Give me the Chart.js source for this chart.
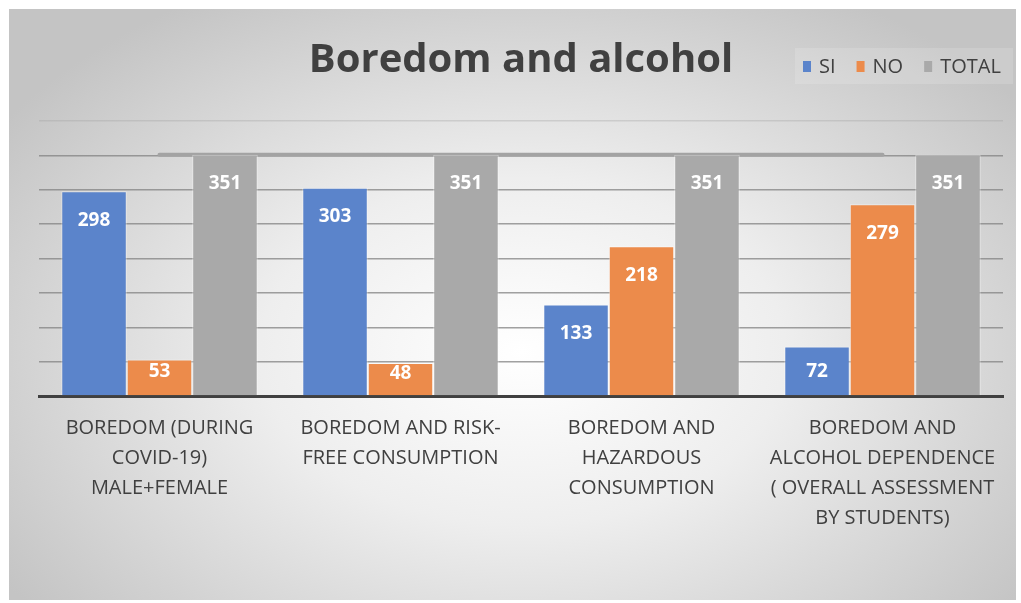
<!DOCTYPE html>
<html>
<head>
<meta charset="utf-8">
<script src="https://cdn.jsdelivr.net/npm/chart.js@4/dist/chart.umd.min.js"></script>
<style>
  body { margin: 0; background: #fff; }
  #box {
    position: absolute; left: 9px; top: 9px; width: 1007px; height: 591px;
    background: radial-gradient(62% 70% at 51% 58%, #ffffff 0%, #eeeeee 42%, #c4c4c4 100%);
  }
  canvas { display: block; }
</style>
</head>
<body>
<div id="box"><canvas id="chart" width="1007" height="591"></canvas></div>
<script>
// Boredom and alcohol - SI / NO / TOTAL per category

const categories = [
    ['BOREDOM (DURING', 'COVID-19)', 'MALE+FEMALE'],
    ['BOREDOM AND RISK-', 'FREE CONSUMPTION'],
    ['BOREDOM AND', 'HAZARDOUS', 'CONSUMPTION'],
    ['BOREDOM AND', 'ALCOHOL DEPENDENCE', '( OVERALL ASSESSMENT', 'BY STUDENTS)']
];
const siValues = [298, 303, 133, 72];
const noValues = [53, 48, 218, 279];
const totalValues = [351, 351, 351, 351];

const seriesNames = ['SI', 'NO', 'TOTAL'];
const seriesColors = ['#5b84cb', '#ec8b4b', '#a9a9a9'];

const textColor = '#404040';
const fontFamily = "'Open Sans', 'Noto Sans', sans-serif";

// white value labels inside the top of each bar
const barLabels = {
    id: 'barLabels',
    afterDatasetsDraw(chart) {
        const ctx = chart.ctx;
        ctx.save();
        ctx.fillStyle = '#ffffff';
        ctx.font = 'bold 19px ' + fontFamily;
        ctx.textAlign = 'center';
        ctx.textBaseline = 'middle';
        chart.data.datasets.forEach((ds, i) => {
            if (ds.type === 'line') return;
            const meta = chart.getDatasetMeta(i);
            meta.data.forEach((bar, j) => {
                const h = bar.base - bar.y;
                const off = Math.max(11, Math.min(29, h - 24));
                ctx.fillText(String(ds.data[j]), bar.x, bar.y + off);
            });
        });
        ctx.restore();
    }
};

// legend drawn at the right of the title row
const sideLegend = {
    id: 'sideLegend',
    afterDraw(chart) {
        const ctx = chart.ctx;
        ctx.save();
        ctx.fillStyle = 'rgba(255,255,255,0.15)';
        ctx.fillRect(786, 39, 218, 36);
        ctx.font = '20px ' + fontFamily;
        ctx.textBaseline = 'middle';
        let x = 794;
        const y = 57;
        chart.data.datasets.forEach(ds => {
            if (ds.type === 'line') return;
            ctx.fillStyle = ds.backgroundColor;
            ctx.fillRect(x, y - 5, 8, 11);
            ctx.fillStyle = textColor;
            ctx.fillText(ds.label, x + 16, y + 1);
            x += 16 + ctx.measureText(ds.label).width + 21;
        });
        ctx.restore();
    }
};

const ctx = document.getElementById('chart').getContext('2d');
const chart = new Chart(ctx, {
    type: 'bar',
    data: {
        labels: categories,
        datasets: [
            {
                label: seriesNames[0],
                data: siValues,
                backgroundColor: seriesColors[0],
                borderColor: 'rgba(255,255,255,0.45)',
                borderWidth: 1,
                order: 1
            },
            {
                label: seriesNames[1],
                data: noValues,
                backgroundColor: seriesColors[1],
                borderColor: 'rgba(255,255,255,0.45)',
                borderWidth: 1,
                order: 1
            },
            {
                label: seriesNames[2],
                data: totalValues,
                backgroundColor: seriesColors[2],
                borderColor: 'rgba(255,255,255,0.45)',
                borderWidth: 1,
                order: 1
            },
            {
                type: 'line',
                label: 'total line',
                data: totalValues,
                borderColor: '#a3a3a3',
                borderWidth: 4,
                borderCapStyle: 'round',
                pointRadius: 0,
                fill: false,
                order: 2
            }
        ]
    },
    options: {
        responsive: false,
        animation: false,
        devicePixelRatio: 1,
        categoryPercentage: 0.815,
        barPercentage: 1.0,
        layout: {
            padding: { left: 30, right: 13, top: 0, bottom: 0 }
        },
        scales: {
            x: {
                grid: { display: false, drawTicks: false },
                border: { display: true, color: '#404040', width: 3 },
                ticks: {
                    color: textColor,
                    font: { family: fontFamily, size: 20, lineHeight: 1.5 },
                    padding: 17,
                    maxRotation: 0,
                    autoSkip: false
                },
                afterFit(scale) { scale.height = 204; }
            },
            y: {
                min: 0,
                max: 400,
                ticks: { display: false, stepSize: 50 },
                border: { display: false },
                grid: {
                    drawTicks: false,
                    lineWidth: 1.5,
                    color: c => c.tick.value === 400 ? 'rgba(160,160,160,0.35)' : 'rgba(130,130,130,0.75)'
                }
            }
        },
        plugins: {
            legend: { display: false },
            tooltip: { enabled: false },
            title: {
                display: true,
                text: 'Boredom and alcohol',
                color: textColor,
                font: { family: fontFamily, size: 40, weight: 'bold', lineHeight: 1.2 },
                padding: { top: 28, bottom: 36 }
            }
        }
    },
    plugins: [barLabels, sideLegend]
});
</script>
</body>
</html>
